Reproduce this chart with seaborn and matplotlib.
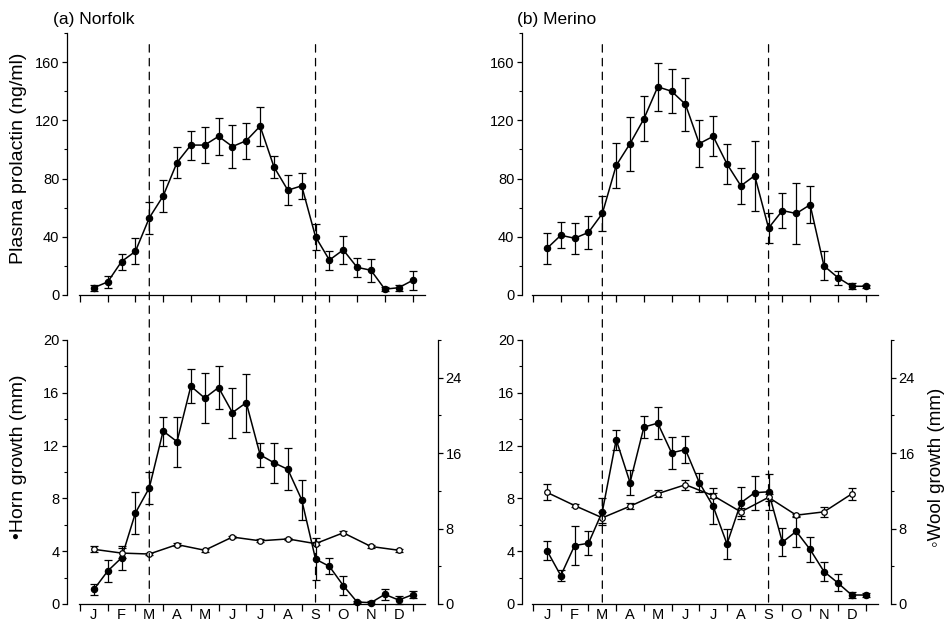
import numpy as np
import pandas as pd
import matplotlib
matplotlib.use("Agg")
import matplotlib.pyplot as plt
from matplotlib.patches import ConnectionPatch
from matplotlib.ticker import MultipleLocator
import seaborn as sns

sns.set_style("ticks", {'axes.edgecolor': 'k', 'xtick.color': 'k', 'ytick.color': 'k',
                        'text.color': 'k', 'axes.labelcolor': 'k'})
plt.rcParams['font.family'] = ['Liberation Sans', 'DejaVu Sans']

# sampling times, months from 1 January
fortnight = [0.5, 1.0, 1.5, 2.0, 2.5, 3.0, 3.5, 4.0, 4.5, 5.0, 5.5, 6.0,
             6.5, 7.0, 7.5, 8.0, 8.5, 9.0, 9.5, 10.0, 10.5, 11.0, 11.5, 12.0]
monthly = [0.5, 1.5, 2.5, 3.5, 4.5, 5.5, 6.5, 7.5, 8.5, 9.5, 10.5, 11.5]
months = ["J", "F", "M", "A", "M", "J", "J", "A", "S", "O", "N", "D"]
equinox = [2.5, 8.5]

# (a) Norfolk
norfolk_prl = [5, 9, 23, 30, 53, 68, 91, 103, 103, 109, 102, 106,
               116, 88, 72, 75, 40, 24, 31, 19, 17, 4, 5, 10]
norfolk_prl_se = [2, 4, 5.5, 9, 11, 11, 10.5, 10, 12.5, 12.5, 14.5, 12.5,
                  13.5, 7.5, 10.5, 9, 9, 6.5, 9.5, 6.5, 8, 1.5, 2, 6.5]
norfolk_horn = [1.1, 2.5, 3.5, 6.9, 8.8, 13.1, 12.3, 16.5, 15.6, 16.4, 14.5, 15.25,
                11.3, 10.7, 10.2, 7.9, 3.4, 2.85, 1.4, 0.15, 0.1, 0.73, 0.3, 0.7]
norfolk_horn_se = [0.4, 0.85, 0.9, 1.6, 1.2, 1.1, 1.9, 1.3, 1.9, 1.6, 1.9, 2.2,
                   0.9, 1.5, 1.6, 1.5, 1.6, 0.6, 0.7, 0.1, 0.1, 0.4, 0.3, 0.25]
norfolk_wool = [5.8, 5.4, 5.3, 6.3, 5.7, 7.1, 6.7, 6.9, 6.4, 7.55, 6.1, 5.7]
norfolk_wool_se = [0.3, 0.5, 0.15, 0.15, 0.15, 0.15, 0.15, 0.15, 0.15, 0.15, 0.15, 0.15]

# (b) Merino
merino_prl = [32, 41, 39, 43, 56, 89, 104, 121, 143, 140, 131, 104,
              109, 90, 75, 82, 46, 58, 56, 62, 20, 12, 6, 6]
merino_prl_se = [10.5, 9, 10.5, 11.5, 12.3, 15.5, 18.5, 15.5, 16.5, 15, 18, 16,
                 13.7, 14, 12.3, 24, 10.3, 12, 21, 12.7, 10, 4.8, 2.2, 1]
merino_horn = [4.05, 2.15, 4.43, 4.6, 7.0, 12.45, 9.2, 13.4, 13.7, 11.45, 11.7, 9.2,
               7.4, 4.55, 7.67, 8.43, 8.5, 4.68, 5.5, 4.13, 2.46, 1.6, 0.68, 0.68]
merino_horn_se = [0.7, 0.4, 1.5, 0.9, 1.0, 0.75, 0.95, 0.85, 1.2, 1.2, 1.0, 0.7,
                  1.35, 1.15, 1.2, 1.3, 1.35, 1.05, 1.2, 0.93, 0.75, 0.65, 0.2, 0.15]
merino_wool = [11.84, 10.44, 9.14, 10.37, 11.7, 12.65, 11.49, 9.77, 11.31, 9.42, 9.77, 11.67]
merino_wool_se = [0.85, 0.15, 0.6, 0.3, 0.4, 0.55, 0.3, 0.4, 0.4, 0.15, 0.5, 0.6]


def draw_series(ax, x, y, err, face, ms):
    ax.errorbar(x, y, yerr=err, fmt='none', ecolor='k', elinewidth=0.9,
                capsize=3, capthick=0.9, clip_on=False, zorder=2)
    sns.lineplot(x=x, y=y, ax=ax, color='k', linewidth=1.1, marker='o',
                 markersize=ms, markerfacecolor=face, markeredgecolor='k',
                 markeredgewidth=0.9, clip_on=False, zorder=3)


def setup_x(ax, left, labels):
    ax.set_xlim(left, 12.92)
    ax.set_xticks(range(13))
    ax.set_xticklabels([])
    if labels:
        ax.set_xticks(monthly, minor=True)
        ax.set_xticklabels(months, minor=True)
    ax.tick_params(axis='x', which='major', length=5, width=0.9)
    ax.tick_params(axis='x', which='minor', length=0, pad=3, labelsize=10.5)
    ax.set_xlabel("")


def setup_y(ax, top, step, minor):
    ax.set_ylim(0, top)
    ax.yaxis.set_major_locator(MultipleLocator(step))
    ax.yaxis.set_minor_locator(MultipleLocator(minor))
    ax.tick_params(axis='y', which='major', length=3.5, width=0.9, labelsize=10.5, pad=2)
    ax.tick_params(axis='y', which='minor', length=2, width=0.8)


fig = plt.figure(figsize=(9.47, 6.31), dpi=100)
lefts = [67 / 947, 522 / 947]
widths = [371 / 947, 369 / 947]
xleft = [-0.47, -0.40]
top_axes = []
bot_axes = []
for i in range(2):
    top_axes.append(fig.add_axes([lefts[i], 0.5325, widths[i], 0.4152]))
    bot_axes.append(fig.add_axes([lefts[i], 0.0428, widths[i], 0.4184]))

panels = [
    ("(a) Norfolk", norfolk_prl, norfolk_prl_se, norfolk_horn, norfolk_horn_se,
     norfolk_wool, norfolk_wool_se),
    ("(b) Merino", merino_prl, merino_prl_se, merino_horn, merino_horn_se,
     merino_wool, merino_wool_se),
]

for i, (title, prl, prl_se, horn, horn_se, wool, wool_se) in enumerate(panels):
    axt = top_axes[i]
    axb = bot_axes[i]

    # plasma prolactin
    draw_series(axt, fortnight, prl, prl_se, 'k', 4.5)
    setup_x(axt, xleft[i], False)
    setup_y(axt, 180, 40, 20)
    sns.despine(ax=axt)
    axt.spines['bottom'].set_bounds(-0.05, 12.45)

    # horn growth (left) and wool growth (right)
    draw_series(axb, fortnight, horn, horn_se, 'k', 4.5)
    setup_x(axb, xleft[i], True)
    setup_y(axb, 20, 4, 2)
    sns.despine(ax=axb)
    axb.spines['bottom'].set_bounds(-0.05, 12.45)

    ax2 = axb.twinx()
    draw_series(ax2, monthly, wool, wool_se, 'white', 4)
    ax2.set_ylim(0, 28)
    ax2.yaxis.set_major_locator(MultipleLocator(8))
    ax2.yaxis.set_minor_locator(MultipleLocator(4))
    ax2.tick_params(axis='y', which='major', length=3.5, width=0.9, labelsize=10.5, pad=2)
    ax2.tick_params(axis='y', which='minor', length=2, width=0.8)
    for s in ['top', 'left', 'bottom']:
        ax2.spines[s].set_visible(False)
    ax2.set_ylabel("")

    for a in [axt, axb, ax2]:
        for s in a.spines.values():
            s.set_linewidth(0.9)

    axt.text(-0.038 if i == 0 else -0.014, 1.034, title, transform=axt.transAxes,
             fontsize=12.5, va='baseline', ha='left')

    # dashed equinox lines running through both panels
    for xe in equinox:
        con = ConnectionPatch(xyA=(xe, 172), coordsA=axt.transData,
                              xyB=(xe, 0), coordsB=axb.transData,
                              color='k', linewidth=0.9, linestyle=(0, (6, 5)))
        fig.add_artist(con)

    if i == 0:
        axt.set_ylabel("Plasma prolactin (ng/ml)", fontsize=14)
        axt.yaxis.set_label_coords(-0.108, 0.52)
        axb.set_ylabel("\u2022Horn growth (mm)", fontsize=14)
        axb.yaxis.set_label_coords(-0.108, 0.557)
    else:
        axt.set_ylabel("")
        axb.set_ylabel("")
        ax2.set_ylabel("\u25e6Wool growth (mm)", fontsize=13.5)
        ax2.yaxis.set_label_coords(1.10, 0.519)

fig.savefig("out.png", dpi=100)
